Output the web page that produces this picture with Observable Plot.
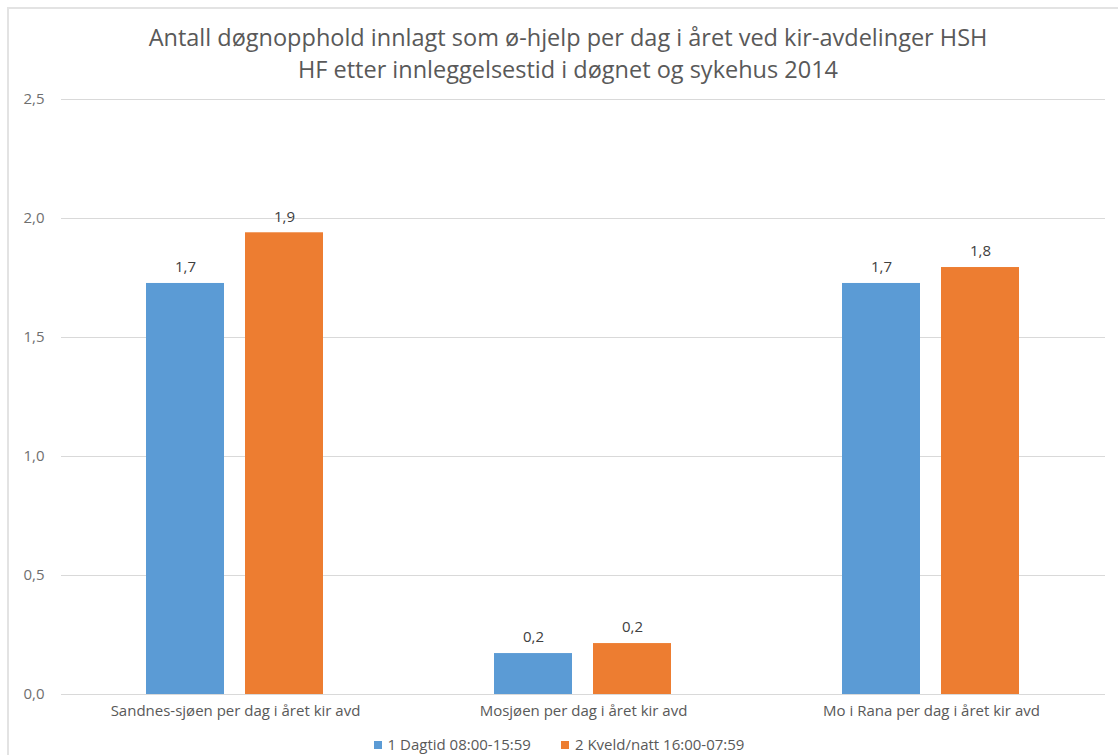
<!DOCTYPE html>
<html>
<head>
<meta charset="utf-8">
<script src="https://cdn.jsdelivr.net/npm/d3@7"></script>
<script src="https://cdn.jsdelivr.net/npm/@observablehq/plot@0.6"></script>
<style>
  html, body { margin: 0; padding: 0; background: #fff; }
  body { width: 1118px; height: 755px; overflow: hidden; position: relative; font-family: "Open Sans", sans-serif; }
  #frame { position: absolute; left: 7px; top: 7px; width: 1120px; height: 760px; border-left: 2px solid #e3e3e3; border-top: 2px solid #e3e3e3; }
  #title { position: absolute; left: 0; top: 21px; width: 1136px; text-align: center; font-size: 23.5px; line-height: 32px; color: #595959; }
  #chart { position: absolute; left: 0; top: 85px; }
  #legend { position: absolute; left: 0; top: 734px; width: 1118px; display: flex; justify-content: center; gap: 30px; font-size: 15px; color: #595959; }
  .sw { display: inline-block; width: 8px; height: 8px; margin-right: 6px; vertical-align: 1px; }
</style>
</head>
<body>
<div id="frame"></div>
<div id="title">Antall døgnopphold innlagt som ø-hjelp per dag i året ved kir-avdelinger HSH<br>HF etter innleggelsestid i døgnet og sykehus 2014</div>
<div id="chart"></div>
<div id="legend"></div>
<script>
const categories = ["Sandnes-sjøen per dag i året kir avd", "Mosjøen per dag i året kir avd", "Mo i Rana per dag i året kir avd"];
const seriesNames = ["1 Dagtid 08:00-15:59", "2 Kveld/natt 16:00-07:59"];
const dagtid = [1.727, 0.172, 1.727];
const kveldNatt = [1.94, 0.214, 1.794];
const yTicks = [0, 0.5, 1, 1.5, 2, 2.5];
const colors = ["#5B9BD5", "#ED7D31"];

const fmt = d => d.toFixed(1).replace(".", ",");

const data = [];
categories.forEach((c, i) => {
  data.push({category: c, series: seriesNames[0], value: dagtid[i]});
  data.push({category: c, series: seriesNames[1], value: kveldNatt[i]});
});

const chart = Plot.plot({
  width: 1118,
  height: 649,
  marginLeft: 60,
  marginRight: 12,
  marginTop: 14,
  marginBottom: 40,
  style: {fontFamily: "'Open Sans', sans-serif", background: "transparent"},
  fx: {domain: categories, padding: 0, label: null},
  x: {domain: seriesNames, paddingInner: 0.21, paddingOuter: 0.85, axis: null},
  y: {domain: [0, 2.5], label: null},
  color: {domain: seriesNames, range: colors},
  marks: [
    Plot.gridY(yTicks, {stroke: "#d9d9d9", strokeOpacity: 1, strokeWidth: 1}),
    Plot.axisY(yTicks, {tickSize: 0, tickPadding: 17, tickFormat: fmt, fontSize: 15, fill: "#6f6f6f", label: null}),
    Plot.axisFx({anchor: "bottom", tickSize: 0, tickPadding: 11, fontSize: 15, fill: "#595959", label: null}),
    Plot.barY(data, {fx: "category", x: "series", y: "value", fill: "series"}),
    Plot.text(data, {fx: "category", x: "series", y: "value", text: d => fmt(d.value), dy: -16, fontSize: 15, fill: "#404040"})
  ]
});
document.getElementById("chart").appendChild(chart);

const legend = document.getElementById("legend");
seriesNames.forEach((s, i) => {
  const item = document.createElement("span");
  const sw = document.createElement("span");
  sw.className = "sw";
  sw.style.background = colors[i];
  item.appendChild(sw);
  item.appendChild(document.createTextNode(s));
  legend.appendChild(item);
});
</script>
</body>
</html>
